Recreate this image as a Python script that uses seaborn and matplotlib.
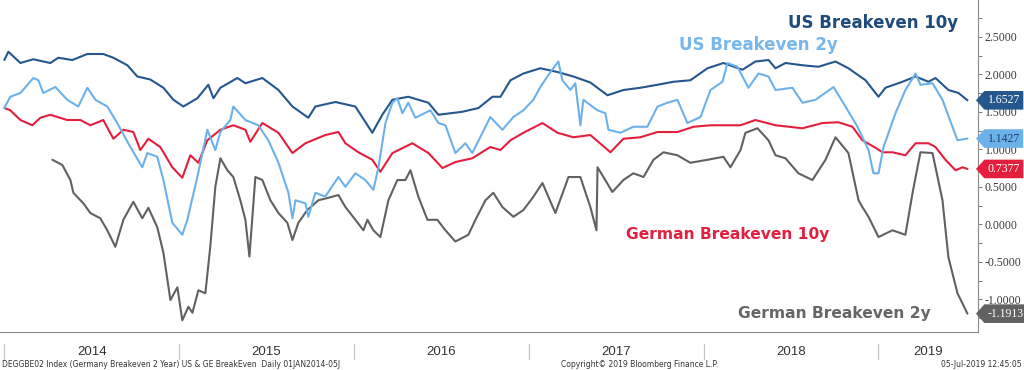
import numpy as np
import pandas as pd
import matplotlib
matplotlib.use("Agg")
import matplotlib.pyplot as plt
import matplotlib.dates as mdates
import matplotlib.transforms as mtransforms
from matplotlib.path import Path
import seaborn as sns

# values (decimal years / breakeven in %)
us10_t = [2014.000, 2014.023, 2014.092, 2014.166, 2014.263, 2014.309, 2014.389, 2014.475, 2014.566, 2014.624,
          2014.704, 2014.761, 2014.835, 2014.910, 2014.967, 2015.024, 2015.104, 2015.167, 2015.196, 2015.236,
          2015.333, 2015.379, 2015.476, 2015.568, 2015.648, 2015.739, 2015.779, 2015.894, 2016.008, 2016.105,
          2016.162, 2016.220, 2016.311, 2016.426, 2016.483, 2016.620, 2016.712, 2016.792, 2016.838, 2016.895,
          2016.969, 2017.066, 2017.164, 2017.255, 2017.352, 2017.450, 2017.541, 2017.638, 2017.736, 2017.827,
          2017.924, 2018.022, 2018.113, 2018.222, 2018.296, 2018.371, 2018.411, 2018.468, 2018.565, 2018.657,
          2018.754, 2018.828, 2018.926, 2019.000, 2019.040, 2019.137, 2019.212, 2019.286, 2019.326, 2019.400,
          2019.458, 2019.509]
us10_v = [2.19, 2.30, 2.15, 2.20, 2.15, 2.22, 2.19, 2.27, 2.27, 2.22, 2.12, 1.97, 1.93, 1.82, 1.66,
          1.57, 1.68, 1.86, 1.68, 1.82, 1.95, 1.88, 1.95, 1.79, 1.57, 1.42, 1.57, 1.63,
          1.57, 1.22, 1.46, 1.66, 1.70, 1.62, 1.46, 1.50, 1.55, 1.70, 1.70, 1.92, 2.01,
          2.08, 2.03, 1.97, 1.89, 1.72, 1.79, 1.82, 1.86, 1.90, 1.92,
          2.08, 2.15, 2.06, 2.17, 2.19, 2.08, 2.15, 2.12, 2.10, 2.17, 2.08, 1.92,
          1.70, 1.82, 1.90, 1.97, 1.90, 1.95, 1.79, 1.75, 1.6527]

us2_t = [2014.000, 2014.034, 2014.092, 2014.166, 2014.195, 2014.223, 2014.292, 2014.360, 2014.423, 2014.475,
         2014.521, 2014.589, 2014.646, 2014.709, 2014.789, 2014.818, 2014.875, 2014.910, 2014.961,
         2015.018, 2015.047, 2015.104, 2015.161, 2015.207, 2015.236, 2015.293, 2015.310, 2015.379, 2015.453,
         2015.510, 2015.568, 2015.625, 2015.648, 2015.665, 2015.722, 2015.739, 2015.779, 2015.836, 2015.911,
         2015.951,
         2016.008, 2016.065, 2016.111, 2016.140, 2016.180, 2016.220, 2016.248, 2016.277, 2016.311, 2016.351,
         2016.437, 2016.483, 2016.523, 2016.580, 2016.637, 2016.677, 2016.735, 2016.780, 2016.849, 2016.912,
         2016.969,
         2017.026, 2017.066, 2017.112, 2017.169, 2017.192, 2017.238, 2017.266, 2017.295, 2017.312, 2017.392,
         2017.438, 2017.455, 2017.524, 2017.598, 2017.678, 2017.736, 2017.793, 2017.850, 2017.907, 2017.982,
         2018.039, 2018.108, 2018.136, 2018.193, 2018.256, 2018.314, 2018.371, 2018.411, 2018.508, 2018.565,
         2018.640, 2018.743, 2018.811, 2018.880, 2018.943, 2018.971,
         2019.000, 2019.029, 2019.097, 2019.154, 2019.212, 2019.240, 2019.309, 2019.366, 2019.423, 2019.452,
         2019.509]
us2_v = [1.55, 1.70, 1.75, 1.95, 1.92, 1.75, 1.83, 1.66, 1.57, 1.82, 1.66, 1.57, 1.35, 1.08, 0.76, 0.95, 0.90,
         0.59, 0.02,
         -0.14, 0.06, 0.63, 1.26, 0.99, 1.23, 1.39, 1.57, 1.39, 1.32, 1.12, 0.82, 0.42, 0.08, 0.32, 0.28, 0.10,
         0.42, 0.37, 0.63, 0.50,
         0.68, 0.59, 0.46, 0.76, 1.35, 1.62, 1.68, 1.48, 1.62, 1.42, 1.52, 1.35, 1.32, 0.95, 1.08, 0.95, 1.22,
         1.43, 1.26, 1.43, 1.52,
         1.66, 1.83, 1.99, 2.17, 1.92, 1.79, 1.88, 1.32, 1.66, 1.52, 1.48, 1.26, 1.22, 1.30, 1.30, 1.57, 1.62,
         1.66, 1.35, 1.43,
         1.79, 1.90, 2.15, 2.10, 1.82, 2.01, 1.97, 1.79, 1.82, 1.62, 1.66, 1.83, 1.57, 1.30, 0.99, 0.68,
         0.68, 1.03, 1.48, 1.79, 2.01, 1.86, 1.88, 1.66, 1.30, 1.12, 1.1427]

de10_t = [2014.000, 2014.034, 2014.092, 2014.160, 2014.206, 2014.263, 2014.360, 2014.435, 2014.492, 2014.566,
          2014.624, 2014.681, 2014.738, 2014.778, 2014.824, 2014.892, 2014.961,
          2015.018, 2015.064, 2015.110, 2015.161, 2015.236, 2015.310, 2015.379, 2015.407, 2015.476, 2015.568,
          2015.648, 2015.722, 2015.836, 2015.911, 2015.951,
          2016.025, 2016.105, 2016.151, 2016.220, 2016.334, 2016.426, 2016.506, 2016.580, 2016.677, 2016.752,
          2016.780, 2016.838, 2016.895, 2016.969,
          2017.078, 2017.164, 2017.255, 2017.352, 2017.467, 2017.541, 2017.638, 2017.736, 2017.850, 2017.942,
          2018.039, 2018.211, 2018.296, 2018.411, 2018.565, 2018.680, 2018.771, 2018.851, 2018.908, 2018.983,
          2019.023, 2019.080, 2019.154, 2019.212, 2019.286, 2019.326, 2019.383, 2019.441, 2019.481, 2019.509]
de10_v = [1.55, 1.52, 1.39, 1.32, 1.42, 1.46, 1.39, 1.39, 1.32, 1.39, 1.14, 1.26, 1.23, 0.99, 1.14, 1.03, 0.76,
          0.62, 0.92, 0.82, 1.12, 1.26, 1.32, 1.26, 1.10, 1.35, 1.22, 0.95, 1.08, 1.19, 1.23, 1.08,
          0.96, 0.86, 0.70, 0.95, 1.08, 0.95, 0.75, 0.83, 0.88, 0.99, 1.03, 0.99, 1.12, 1.22,
          1.35, 1.22, 1.16, 1.19, 0.96, 1.14, 1.16, 1.23, 1.23, 1.30,
          1.32, 1.32, 1.39, 1.32, 1.28, 1.35, 1.36, 1.30, 1.12, 1.02,
          0.96, 0.96, 0.92, 1.08, 1.08, 1.03, 0.86, 0.72, 0.76, 0.7377]

de2_t = [2014.275, 2014.332, 2014.378, 2014.395, 2014.452, 2014.492, 2014.549, 2014.589, 2014.635, 2014.681,
         2014.738, 2014.789, 2014.824, 2014.875, 2014.910, 2014.950, 2014.990,
         2015.018, 2015.053, 2015.076, 2015.110, 2015.150, 2015.178, 2015.207, 2015.236, 2015.276, 2015.310,
         2015.350, 2015.379, 2015.402, 2015.436, 2015.476, 2015.522, 2015.568, 2015.619, 2015.648, 2015.682,
         2015.733, 2015.796, 2015.848, 2015.911, 2015.951,
         2016.008, 2016.054, 2016.077, 2016.111, 2016.151, 2016.197, 2016.248, 2016.294, 2016.323, 2016.368,
         2016.420, 2016.477, 2016.523, 2016.580, 2016.654, 2016.695, 2016.752, 2016.797, 2016.849, 2016.912,
         2016.969,
         2017.021, 2017.078, 2017.152, 2017.227, 2017.295, 2017.352, 2017.387, 2017.393, 2017.427, 2017.478,
         2017.541, 2017.598, 2017.656, 2017.713, 2017.770, 2017.850, 2017.924,
         2018.022, 2018.113, 2018.153, 2018.211, 2018.239, 2018.308, 2018.371, 2018.411, 2018.468, 2018.542,
         2018.622, 2018.697, 2018.754, 2018.828, 2018.886, 2018.908, 2018.943,
         2019.000, 2019.080, 2019.154, 2019.195, 2019.240, 2019.309, 2019.366, 2019.400, 2019.452, 2019.509]
de2_v = [0.86, 0.79, 0.59, 0.42, 0.28, 0.15, 0.08, -0.08, -0.30, 0.06, 0.30, 0.08, 0.22, -0.04, -0.38, -1.01,
         -0.84,
         -1.28, -1.10, -1.18, -0.88, -0.92, -0.30, 0.50, 0.88, 0.72, 0.63, 0.32, 0.06, -0.43, 0.63, 0.59, 0.32,
         0.15, 0.02, -0.21, 0.02, 0.19, 0.32, 0.35, 0.39, 0.23,
         0.06, -0.08, 0.06, -0.08, -0.17, 0.32, 0.59, 0.59, 0.72, 0.37, 0.06, 0.06, -0.08, -0.23, -0.14, 0.06,
         0.32, 0.42, 0.23, 0.10, 0.19,
         0.35, 0.55, 0.15, 0.63, 0.63, 0.23, -0.08, 0.76, 0.63, 0.43, 0.59, 0.68, 0.63, 0.86, 0.96, 0.92, 0.82,
         0.86, 0.90, 0.76, 0.99, 1.22, 1.28, 1.12, 0.92, 0.88, 0.68, 0.59, 0.86, 1.16, 0.95, 0.32, 0.23, 0.10,
         -0.17, -0.08, -0.14, 0.42, 0.96, 0.95, 0.32, -0.44, -0.92, -1.1913]

names = ["US Breakeven 10y", "US Breakeven 2y", "German Breakeven 10y", "German Breakeven 2y"]
line_colors = ["#25578e", "#6db1ea", "#e41f3d", "#616161"]
text_colors = ["#1f4b7a", "#78b7ec", "#e0213f", "#666666"]
tag_text = ["white", "#1d3f66", "white", "white"]
footer_left = "DEGGBE02 Index (Germany Breakeven 2 Year) US & GE BreakEven  Daily 01JAN2014-05J"
footer_mid = "Copyright\u00a9 2019 Bloomberg Finance L.P."
footer_right = "05-Jul-2019 12:45:05"


def to_dates(years):
    years = np.asarray(years, dtype=float)
    return pd.Timestamp("2014-01-01") + pd.to_timedelta((years - 2014) * 365.25, unit="D")


def tag_shape(x0, y0, width, height, mutation_size):
    # little price tag pointing left, like the Bloomberg last-value boxes
    pad = 0.28 * mutation_size
    x0, y0 = x0 - pad, y0 - pad
    x1, y1 = x0 + width + 2 * pad, y0 + height + 2 * pad
    tip = (y1 - y0) * 0.45
    verts = [(x0, y0), (x1, y0), (x1, y1), (x0, y1), (x0 - tip, (y0 + y1) / 2), (x0, y0)]
    return Path(verts, closed=True)


series = [(us10_t, us10_v), (us2_t, us2_v), (de10_t, de10_v), (de2_t, de2_v)]
frames = []
for name, (t, v) in zip(names, series):
    frames.append(pd.DataFrame({"date": to_dates(t), "value": v, "series": name}))
df = pd.concat(frames, ignore_index=True)

sns.set_style("white")
plt.rcParams["font.family"] = ["DejaVu Sans"]

fig = plt.figure(figsize=(10.24, 3.70), dpi=100)
ax = fig.add_axes([0.0, 0.1027, 0.955, 0.8973])

order = ["German Breakeven 2y", "US Breakeven 10y", "German Breakeven 10y", "US Breakeven 2y"]
palette = dict(zip(names, line_colors))
sns.lineplot(data=df, x="date", y="value", hue="series", hue_order=order, palette=palette,
             estimator=None, linewidth=1.5, legend=False, ax=ax)

ax.set_xlim(pd.Timestamp("2013-12-23"), pd.Timestamp("2019-07-28"))
ax.set_ylim(-1.436, 2.99)
ax.set_xlabel("")
ax.set_ylabel("")

# right hand value axis
ax.yaxis.tick_right()
ax.set_yticks(np.arange(-1.0, 2.51, 0.5))
ax.set_yticks(np.arange(-1.25, 2.9, 0.25), minor=True)
ax.set_yticklabels([f"{y:.4f}" for y in np.arange(-1.0, 2.51, 0.5)])
ax.tick_params(axis="y", which="both", direction="out", length=3, width=0.7, color="#777777",
               labelsize=8.5, labelcolor="#3a3a3a", pad=2)
for lab in ax.get_yticklabels():
    lab.set_family("Liberation Serif")

# monthly ticks along the bottom, years written underneath
ax.xaxis.set_major_locator(mdates.MonthLocator())
ax.xaxis.set_major_formatter(plt.NullFormatter())
ax.tick_params(axis="x", direction="out", length=3, width=0.7, color="#777777")

for side in ["left", "top"]:
    ax.spines[side].set_visible(False)
for side in ["right", "bottom"]:
    ax.spines[side].set_color("#8a8a8a")
    ax.spines[side].set_linewidth(0.8)

xtrans = mtransforms.blended_transform_factory(ax.transData, ax.transAxes)
x_right = ax.get_xlim()[1]
for yr in range(2014, 2020):
    start = mdates.date2num(pd.Timestamp(f"{yr}-01-01"))
    end = min(mdates.date2num(pd.Timestamp(f"{yr + 1}-01-01")), x_right)
    ax.plot([start, start], [-0.036, -0.080], transform=xtrans, color="#c4c4c4", lw=0.9, clip_on=False)
    ax.text((start + end) / 2, -0.060, str(yr), transform=xtrans, ha="center", va="center",
            fontsize=9.5, color="#333333", family="Liberation Sans")

# series labels
label_pos = [(0.893, 0.931, 12), (0.776, 0.864, 12), (0.744, 0.295, 11.2), (0.853, 0.057, 11.2)]
for name, col, (x, y, fs) in zip(names, text_colors, label_pos):
    ax.text(x, y, name, transform=ax.transAxes, ha="center", va="center", fontsize=fs,
            fontweight="bold", color=col)

# last value tags on the right axis
for (t, v), face, tc in zip(series, line_colors, tag_text):
    ax.annotate(f"{v[-1]:.4f}", xy=(1.0, v[-1]), xycoords=("axes fraction", "data"),
                xytext=(7, 0), textcoords="offset points", ha="left", va="center",
                fontsize=8.5, family="Liberation Serif", color=tc,
                bbox=dict(boxstyle=tag_shape, fc=face, ec="none"), annotation_clip=False)

fig.text(0.002, 0.016, footer_left, fontsize=5.5, color="#333333", ha="left", va="center")
fig.text(0.548, 0.016, footer_mid, fontsize=5.5, color="#333333", ha="left", va="center")
fig.text(0.998, 0.016, footer_right, fontsize=5.5, color="#333333", ha="right", va="center")

fig.savefig("out.png", dpi=100)
